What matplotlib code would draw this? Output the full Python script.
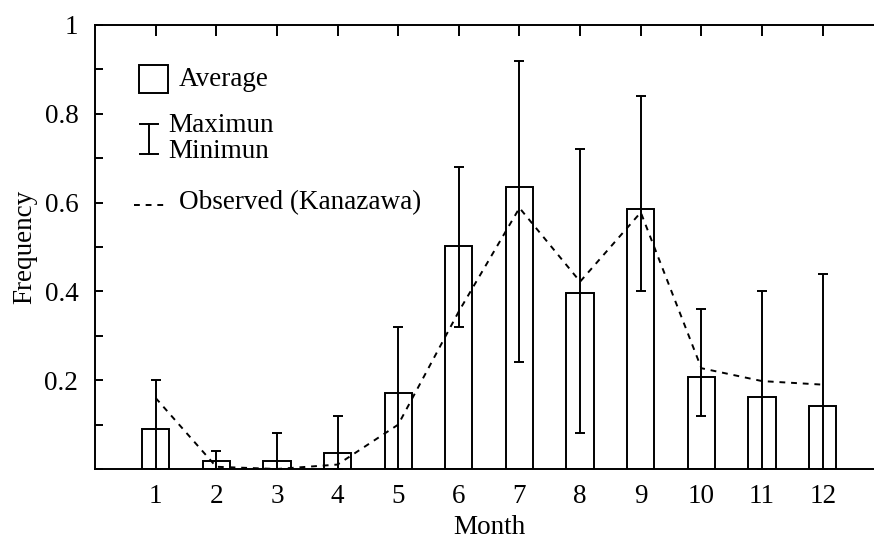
import numpy as np
import matplotlib.pyplot as plt
from matplotlib.patches import Rectangle
from matplotlib.lines import Line2D
from matplotlib.ticker import MultipleLocator

plt.rcParams["font.family"] = ["Liberation Serif", "DejaVu Serif"]
plt.rcParams["font.size"] = 19.5

months = np.arange(1, 13)
average = [0.09, 0.018, 0.018, 0.035, 0.172, 0.503, 0.636, 0.397, 0.586, 0.207, 0.163, 0.143]
maximum = [0.20, 0.04, 0.08, 0.12, 0.32, 0.68, 0.92, 0.72, 0.84, 0.36, 0.40, 0.44]
minimum = [0.0, 0.0, 0.0, 0.0, 0.0, 0.32, 0.24, 0.08, 0.40, 0.12, 0.0, 0.0]
observed = [0.16, 0.005, 0.0, 0.01, 0.10, 0.355, 0.588, 0.422, 0.578, 0.227, 0.198, 0.19]

avg = np.array(average)
yerr = [avg - np.array(minimum), np.array(maximum) - avg]

fig = plt.figure(figsize=(8.74, 5.39), dpi=100)
ax = fig.add_axes([95 / 874, 70 / 539, 13 * 60.64 / 874, 444 / 539])

lw = 1.4
ax.bar(months, average, width=0.45, facecolor="white", edgecolor="black",
       linewidth=lw, zorder=2)
ax.errorbar(months, average, yerr=yerr, fmt="none", ecolor="black",
            elinewidth=lw, capsize=3.3, capthick=lw, zorder=3)
ax.plot(months, observed, color="black", linestyle=(0, (3, 3)),
        linewidth=lw, zorder=4)

ax.set_xlim(0, 13)
ax.set_ylim(0, 1)
ax.set_xticks(months)
ax.yaxis.set_major_locator(MultipleLocator(0.2))
ax.yaxis.set_minor_locator(MultipleLocator(0.1))
ax.set_yticks([0.2, 0.4, 0.6, 0.8, 1.0])
ax.set_yticklabels(["0.2", "0.4", "0.6", "0.8", "1"])
ax.tick_params(axis="x", bottom=False, top=True, direction="in",
               length=8, width=lw, labelbottom=True, pad=11)
ax.tick_params(axis="y", which="both", direction="in", length=6,
               width=lw, pad=12)
for side in ("left", "bottom", "top"):
    ax.spines[side].set_linewidth(lw)
ax.spines["right"].set_visible(False)

ax.set_xlabel("Month", labelpad=4)
ax.set_ylabel("Frequency", labelpad=5)

# hand-drawn legend (axes fraction coordinates)
tr = ax.transAxes
px = lambda x: (x - 95) / (13 * 60.64)
py = lambda y: (469 - y) / 444
ax.add_patch(Rectangle((px(139), py(93)), px(168) - px(139), py(65) - py(93),
                       transform=tr, facecolor="white", edgecolor="black",
                       linewidth=lw, clip_on=False))
ax.text(px(179), py(79), "Average", transform=tr, va="center", ha="left")
ax.add_line(Line2D([px(149), px(149)], [py(124), py(154)], transform=tr,
                   color="black", linewidth=lw))
for yy in (124, 154):
    ax.add_line(Line2D([px(140), px(158)], [py(yy), py(yy)], transform=tr,
                       color="black", linewidth=lw))
ax.text(px(168), py(126), "Maximun", transform=tr, va="center", ha="left")
ax.text(px(168), py(152), "Minimun", transform=tr, va="center", ha="left")
ax.add_line(Line2D([px(134), px(169)], [py(205), py(205)], transform=tr,
                   color="black", linewidth=lw, linestyle=(0, (3, 3))))
ax.text(px(179), py(203), "Observed (Kanazawa)", transform=tr,
        va="center", ha="left")

fig.savefig("out.png", dpi=100)
